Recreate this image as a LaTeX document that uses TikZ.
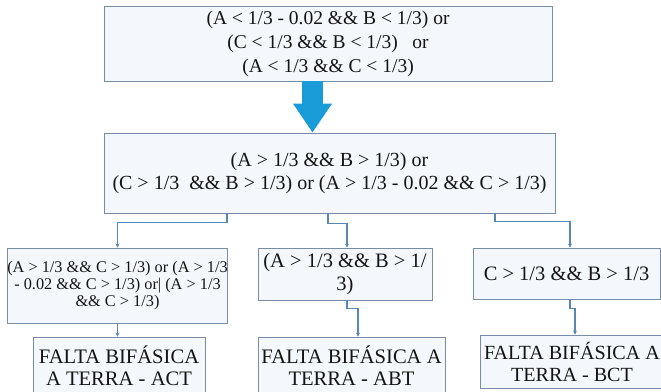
\documentclass[tikz,border=0pt]{standalone}
\usepackage{fontspec}
\setmainfont{Liberation Serif}
\usetikzlibrary{arrows.meta,calc}
\definecolor{boxline}{RGB}{120,140,165}
\definecolor{boxfill}{RGB}{244,248,252}
\definecolor{conn}{RGB}{85,135,185}
\definecolor{bigblue}{RGB}{25,155,215}
\definecolor{txt}{RGB}{20,20,20}
\begin{document}
\begin{tikzpicture}[x=1pt,y=-1pt,
  box/.style={draw=boxline, line width=0.8pt, fill=boxfill, text=txt, align=center, inner sep=0pt},
  link/.style={draw=conn, line width=1.5pt, -{Stealth[length=4pt,width=4pt]}},
  fbig/.style={font=\fontsize{19.5}{24}\selectfont},
  fmidtxt/.style={font=\fontsize{20}{23}\selectfont},
  fsmall/.style={font=\fontsize{16.3}{16.8}\selectfont},
  fmid/.style={font=\fontsize{20.5}{23}\selectfont},
  fres/.style={font=\fontsize{20.6}{22}\selectfont},
  fresr/.style={font=\fontsize{20.1}{22}\selectfont}]
\useasboundingbox (0,0) rectangle (661,391);
\node[box, fbig, minimum width=448pt, minimum height=75pt] (top) at (328,43.5)
  {(A < 1/3 - 0.02 \&\& B < 1/3) or\\(C < 1/3 \&\& B < 1/3)\ \ \ or\\(A < 1/3 \&\& C < 1/3)};
\node[box, fmidtxt, minimum width=451pt, minimum height=80pt] (mid) at (329.5,173)
  {(A > 1/3 \&\& B > 1/3) or\\(C > 1/3\ \ \&\& B > 1/3) or (A > 1/3 - 0.02 \&\& C > 1/3)};
\node[box, fsmall, minimum width=219pt, minimum height=75pt] (b1) at (117.5,285.5)
  {(A > 1/3 \&\& C > 1/3) or (A > 1/3\\- 0.02 \&\& C > 1/3) or| (A > 1/3\\\&\& C > 1/3)};
\node[box, fmid, minimum width=174pt, minimum height=52pt] (b2) at (345,274)
  {(A > 1/3 \&\& B > 1/\\3)};
\node[box, fmid, minimum width=187pt, minimum height=51pt] (b3) at (566.5,273.5)
  {C > 1/3 \&\& B > 1/3};
\node[box, fres, minimum width=172pt, minimum height=58pt] (c1) at (119,366)
  {FALTA BIFÁSICA\\A TERRA - ACT};
\node[box, fres, minimum width=187pt, minimum height=58pt] (c2) at (351.5,366)
  {FALTA BIFÁSICA A\\TERRA - ABT};
\node[box, fresr, minimum width=184pt, minimum height=53pt] (c3) at (572,361.5)
  {FALTA BIFÁSICA A\\TERRA - BCT};
\draw[bigblue, line width=21pt, -{Triangle[length=29pt,width=37pt]}]
  ($(top.south)+(-15.5,0)$) -- ($(mid.north)+(-17,0)$);
\draw[link] ($(mid.south)+(-102.5,0)$) -- ++(0,9) -| (b1.north);
\draw[link] ($(mid.south)+(-1.5,0)$) -- ++(0,10) -| ($(b2.north)+(2,0)$);
\draw[link] ($(mid.south)+(165.5,0)$) -- ++(0,8) -| ($(b3.north)+(3.5,0)$);
\draw[link] (b1.south) -- (b1.south |- c1.north);
\draw[link] ($(b2.south)+(2,0)$) -- ++(0,8) -| ($(c2.north)+(6.5,0)$);
\draw[link] ($(b3.south)+(3.5,0)$) -- ++(0,9) -| ($(c3.north)+(3,0)$);
\end{tikzpicture}
\end{document}
